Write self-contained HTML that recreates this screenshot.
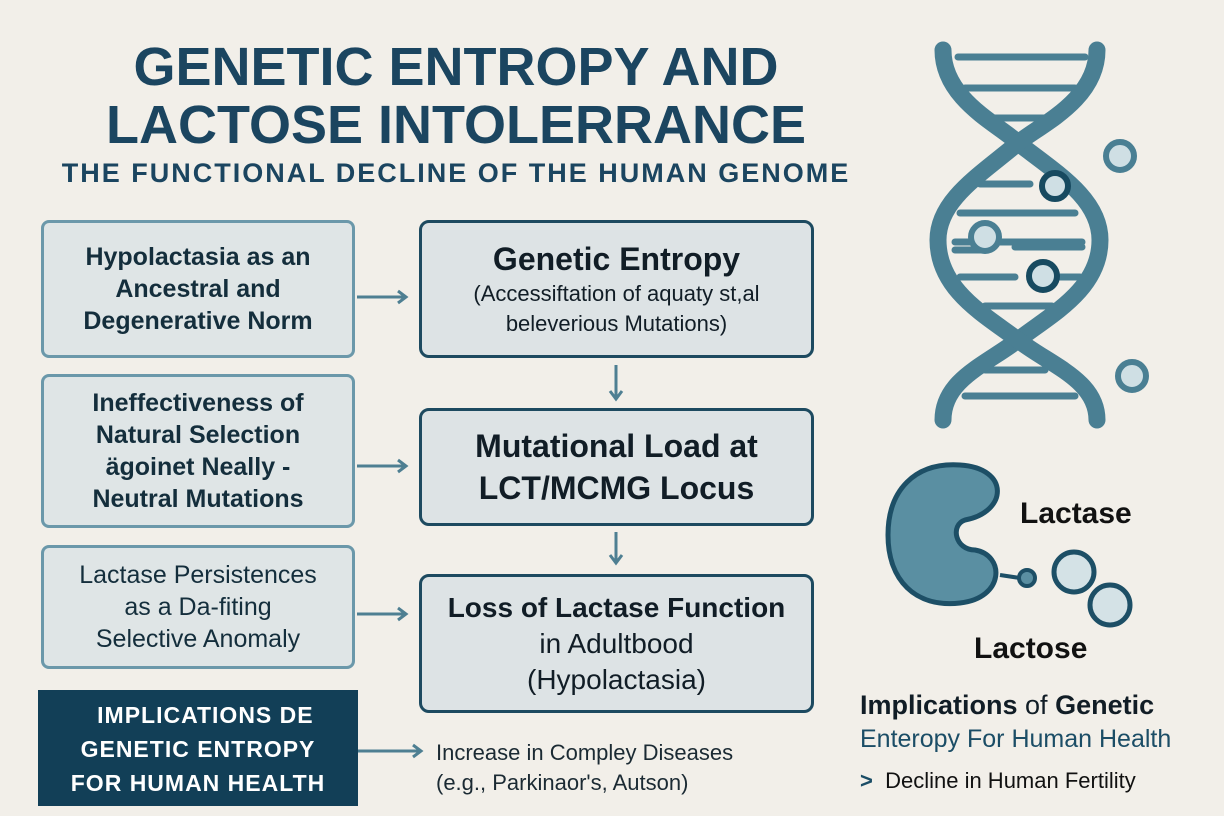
<!DOCTYPE html>
<html><head><meta charset="utf-8"><style>
body{margin:0;width:1224px;height:816px;background:#f2efe9;position:relative;overflow:hidden;font-family:"Liberation Sans",sans-serif;color:#132f3e}
.a{position:absolute}
.t{position:absolute;text-align:center;color:#1b4560;font-weight:bold;white-space:nowrap}
.lb{position:absolute;box-sizing:border-box;border:3px solid #6b98aa;border-radius:8px;background:#dfe5e6;display:flex;align-items:center;justify-content:center;text-align:center;font-size:25px;line-height:32px;color:#142e3c;font-weight:bold}
.cb{position:absolute;box-sizing:border-box;border:3px solid #1d4a60;border-radius:10px;background:#dde3e5;display:flex;flex-direction:column;align-items:center;justify-content:center;text-align:center;color:#111d26}
</style></head><body>
<div class="t" style="left:0;width:912px;top:38px;font-size:54px;line-height:58px">GENETIC ENTROPY AND<br>LACTOSE INTOLERRANCE</div>
<div class="t" style="left:0;width:912px;top:158px;font-size:27px;line-height:30px;letter-spacing:2px">THE FUNCTIONAL DECLINE OF THE HUMAN GENOME</div>

<div class="lb" style="left:41px;top:220px;width:314px;height:138px">Hypolactasia as an<br>Ancestral and<br>Degenerative Norm</div>
<div class="lb" style="left:41px;top:374px;width:314px;height:154px">Ineffectiveness of<br>Natural Selection<br>ägoinet Neally -<br>Neutral Mutations</div>
<div class="lb" style="left:41px;top:545px;width:314px;height:124px;font-weight:normal">Lactase Persistences<br>as a Da-fiting<br>Selective Anomaly</div>

<div class="cb" style="left:419px;top:220px;width:395px;height:138px"><div style="font-size:32px;line-height:40px;font-weight:bold">Genetic Entropy</div><div style="font-size:22px;line-height:30px">(Accessiftation of aquaty st,al<br>beleverious Mutations)</div></div>
<div class="cb" style="left:419px;top:408px;width:395px;height:118px;font-size:32px;line-height:42px;font-weight:bold">Mutational Load at<br>LCT/MCMG Locus</div>
<div class="cb" style="left:419px;top:574px;width:395px;height:139px"><div style="font-size:28px;line-height:36px"><b>Loss of Lactase Function</b><br>in Adultbood<br>(Hypolactasia)</div></div>

<div class="a" style="left:38px;top:690px;width:320px;height:116px;background:#123f57;color:#fff;font-weight:bold;font-size:23px;line-height:34px;text-align:center;padding-top:8px;box-sizing:border-box;letter-spacing:1px">&nbsp;&nbsp;IMPLICATIONS DE<br>GENETIC ENTROPY<br>FOR HUMAN HEALTH</div>
<div class="a" style="left:436px;top:738px;font-size:22px;line-height:30px;color:#1b2a33">Increase in Compley Diseases<br>(e.g., Parkinaor's, Autson)</div>

<svg class="a" style="left:0;top:0" width="1224" height="816">
<g stroke="#4e7f92" stroke-width="3" fill="none">
<line x1="357" y1="297" x2="405" y2="297"/><polyline points="398,291 406,297 398,303"/>
<line x1="357" y1="466" x2="405" y2="466"/><polyline points="398,460 406,466 398,472"/>
<line x1="357" y1="614" x2="405" y2="614"/><polyline points="398,608 406,614 398,620"/>
<line x1="616" y1="365" x2="616" y2="398"/><polyline points="610,391 616,399 622,391"/>
<line x1="616" y1="532" x2="616" y2="562"/><polyline points="610,555 616,563 622,555"/>
<line x1="358" y1="751" x2="420" y2="751"/><polyline points="413,745 421,751 413,757"/>
</g>
<g stroke="#4a7f93" fill="none" stroke-linecap="round">
<g stroke-width="7">
<line x1="958" y1="57" x2="1085" y2="57"/><line x1="965" y1="88" x2="1075" y2="88"/>
<line x1="990" y1="118" x2="1045" y2="118"/>
<line x1="980" y1="184" x2="1030" y2="184"/><line x1="960" y1="213" x2="1075" y2="213"/>
<line x1="955" y1="242" x2="1082" y2="242"/><line x1="955" y1="250" x2="985" y2="250"/>
<line x1="1015" y1="247" x2="1082" y2="247"/>
<line x1="960" y1="277" x2="1015" y2="277"/><line x1="1060" y1="277" x2="1080" y2="277"/>
<line x1="985" y1="306" x2="1052" y2="306"/>
<line x1="985" y1="370" x2="1045" y2="370"/><line x1="965" y1="396" x2="1075" y2="396"/>
</g>
<g stroke-width="17">
<path d="M943,50 C943,100 1000,125 1018,143 C1060,175 1100,200 1100,240 C1100,290 1050,315 1018,340 C985,365 943,380 943,420"/>
<path d="M1097,50 C1097,100 1040,125 1018,143 C980,175 938,200 938,240 C938,290 985,315 1018,340 C1050,365 1097,380 1097,420"/>
</g>
</g>
<g stroke-width="6">
<circle cx="1120" cy="156" r="14" stroke="#4a7f93" fill="#cfdfe4"/>
<circle cx="1055" cy="186" r="13" stroke="#174a60" fill="#cfdfe4"/>
<circle cx="985" cy="237" r="14" stroke="#4a7f93" fill="#cfdfe4"/>
<circle cx="1043" cy="276" r="14" stroke="#174a60" fill="#cfdfe4"/>
<circle cx="1132" cy="376" r="14" stroke="#4a7f93" fill="#cfdfe4"/>
</g>
<path d="M960,465 C1010,468 1008,512 965,520 C950,525 955,550 975,550 C1005,555 1005,598 960,603 C915,608 888,580 888,535 C888,490 915,462 960,465 Z" fill="#5a8fa2" stroke="#1d4f66" stroke-width="5"/>
<line x1="1000" y1="575" x2="1020" y2="578" stroke="#1d4f66" stroke-width="4"/>
<circle cx="1027" cy="578" r="8" fill="#5a8fa2" stroke="#1d4f66" stroke-width="4"/>
<circle cx="1110" cy="605" r="20" fill="#d4e2e6" stroke="#1d4f66" stroke-width="5"/>
<circle cx="1074" cy="572" r="20" fill="#d4e2e6" stroke="#1d4f66" stroke-width="5"/>
</svg>
<div class="a" style="left:1020px;top:497px;font-size:30px;font-weight:bold;color:#111">Lactase</div>
<div class="a" style="left:974px;top:632px;font-size:30px;font-weight:bold;color:#111">Lactose</div>
<div class="a" style="left:860px;top:688px;font-size:27px;line-height:34px;color:#111d26;white-space:nowrap"><b>Implications</b> of <b>Genetic</b></div>
<div class="a" style="left:860px;top:725px;font-size:25px;color:#1b4d66;white-space:nowrap">Enteropy For Human Health</div>
<div class="a" style="left:860px;top:768px;font-size:22px;color:#111;white-space:nowrap"><b style="color:#1b4d66">&gt;</b>&nbsp; Decline in Human Fertility</div>
</body></html>
